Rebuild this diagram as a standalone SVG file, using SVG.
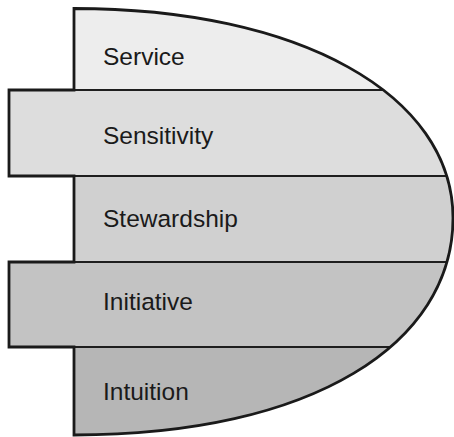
<svg xmlns="http://www.w3.org/2000/svg" width="454" height="437" viewBox="0 0 454 437">
<style>
.lbl{font-family:"Liberation Sans",Arial,sans-serif;font-size:24.5px;fill:#1a1a1a}
.div{stroke:#1e1e1e;stroke-width:2;fill:none}
.out{stroke:#1a1a1a;stroke-width:2.8;fill:none;stroke-linejoin:miter}
</style>
<defs>
<clipPath id="shape">
<path d="M74,8.5 C300,8.5 453,95 453,218 C453,343 314,435 74,435 L74,347 L9,347 L9,262 L74,262 L74,176 L9,176 L9,90 L74,90 Z"/>
</clipPath>
</defs>
<g clip-path="url(#shape)">
<g id="service"><rect x="0" y="0" width="454" height="90" fill="#ededed"/></g>
<g id="sensitivity"><rect x="0" y="90" width="454" height="86" fill="#dddddd"/></g>
<g id="stewardship"><rect x="0" y="176" width="454" height="86" fill="#d0d0d0"/></g>
<g id="initiative"><rect x="0" y="262" width="454" height="85" fill="#c3c3c3"/></g>
<g id="intuition"><rect x="0" y="347" width="454" height="90" fill="#b6b6b6"/></g>
<g id="connectors">
<line class="div" x1="0" y1="90" x2="454" y2="90"/>
<line class="div" x1="0" y1="176" x2="454" y2="176"/>
<line class="div" x1="0" y1="262" x2="454" y2="262"/>
<line class="div" x1="0" y1="347" x2="454" y2="347"/>
</g>
</g>
<path class="out" d="M74,8.5 C300,8.5 453,95 453,218 C453,343 314,435 74,435 L74,347 L9,347 L9,262 L74,262 L74,176 L9,176 L9,90 L74,90 Z"/>
<g id="labels">
<text class="lbl" x="103" y="65">Service</text>
<text class="lbl" x="103" y="144">Sensitivity</text>
<text class="lbl" x="103" y="227">Stewardship</text>
<text class="lbl" x="103" y="310">Initiative</text>
<text class="lbl" x="103" y="400">Intuition</text>
</g>
</svg>
